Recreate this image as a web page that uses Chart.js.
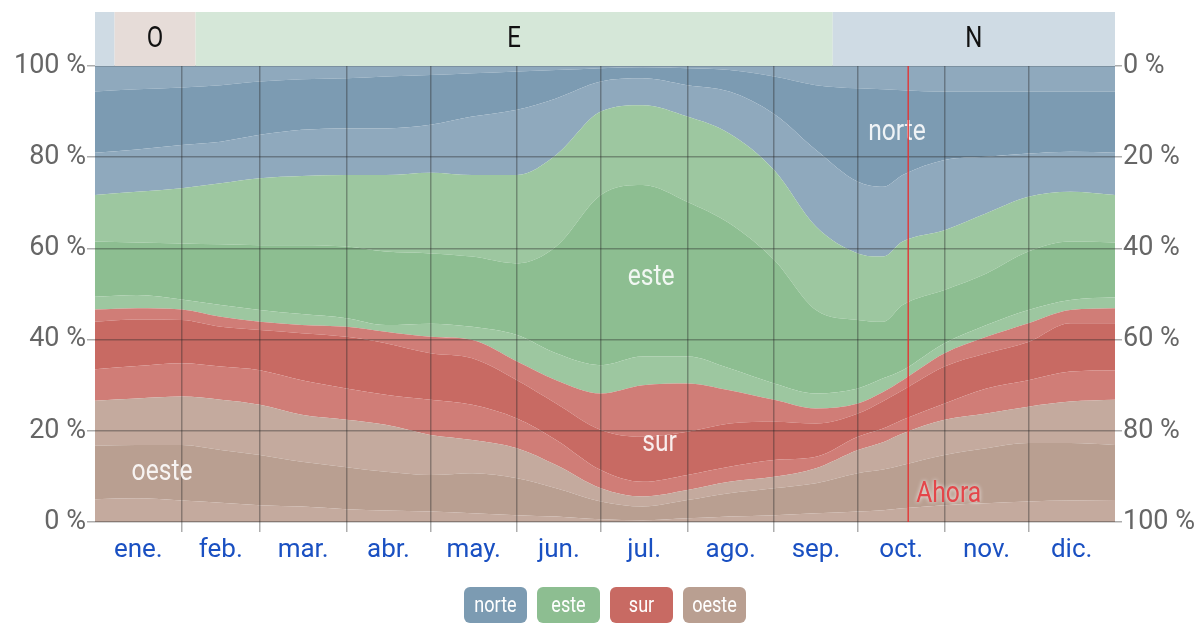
<!DOCTYPE html>
<html>
<head>
<meta charset="utf-8">
<script src="https://cdn.jsdelivr.net/npm/chart.js@4"></script>
<style>
  html, body { margin: 0; padding: 0; background: #fff; }
  #wrap { width: 1195px; height: 623px; }
</style>
</head>
<body>
<div id="wrap"><canvas id="windChart" width="1195" height="623"></canvas></div>
<script>
const FONT = '"Liberation Sans Narrow", Roboto, sans-serif';

// day of year (0 = 1 ene.)
const days = [0, 15, 31, 45, 59, 74, 90, 104, 120, 135, 151, 165, 181, 196, 212, 227, 243, 258, 273, 282, 289, 304, 319, 334, 349, 365];

// cumulative upper edges (%) of each band, bottom to top
const oesteLow  = [5.0, 5.2, 4.7, 4.2, 3.7, 3.4, 2.8, 2.5, 2.3, 1.9, 1.5, 1.2, 0.6, 0.4, 0.8, 1.2, 1.5, 1.9, 2.3, 2.6, 3.0, 3.7, 4.1, 4.5, 4.7, 4.8];
const oesteCore = [16.7, 16.9, 16.9, 15.8, 14.7, 13.2, 12.0, 11.0, 10.3, 10.7, 9.6, 7.4, 4.5, 3.4, 4.8, 6.3, 7.4, 8.5, 10.7, 11.5, 12.5, 14.7, 16.2, 17.3, 17.3, 16.9];
const oesteHigh = [26.6, 27.1, 27.5, 26.8, 25.7, 23.5, 22.4, 21.3, 19.1, 18.0, 16.2, 12.5, 7.4, 5.6, 7.0, 8.8, 9.9, 11.8, 15.8, 17.5, 19.4, 22.4, 23.8, 25.3, 26.4, 26.8];
const surLow    = [33.5, 34.2, 34.8, 34.1, 33.3, 31.1, 29.3, 27.9, 26.8, 25.7, 22.7, 18.0, 11.4, 8.8, 10.3, 12.1, 13.6, 14.3, 18.7, 20.5, 22.4, 26.0, 29.3, 31.1, 33.0, 33.3];
const surCore   = [43.9, 44.4, 44.3, 42.8, 42.1, 41.4, 40.6, 39.2, 37.0, 35.9, 31.1, 26.0, 20.2, 18.7, 19.8, 21.6, 22.0, 21.6, 23.8, 26.5, 28.9, 34.1, 37.0, 39.5, 43.6, 43.6];
const surHigh   = [46.6, 46.9, 46.6, 45.0, 43.9, 43.2, 42.8, 41.7, 40.6, 39.9, 35.2, 31.1, 28.2, 30.0, 30.4, 28.9, 26.8, 24.9, 26.0, 28.5, 31.1, 37.0, 40.6, 43.6, 46.5, 46.9];
const esteLow   = [49.4, 49.8, 48.8, 47.6, 46.5, 45.6, 44.7, 43.2, 43.5, 42.8, 41.0, 37.0, 34.4, 36.3, 36.3, 33.7, 30.4, 28.2, 29.3, 31.5, 33.3, 39.2, 43.2, 46.5, 48.7, 49.3];
const esteCore  = [61.5, 61.3, 61.1, 60.9, 60.7, 60.7, 60.4, 59.3, 58.9, 58.2, 56.7, 60.4, 71.7, 73.9, 70.2, 65.5, 57.5, 46.5, 44.3, 43.9, 47.6, 50.9, 54.5, 59.3, 61.5, 61.3];
const esteHigh  = [71.7, 72.4, 73.2, 74.3, 75.4, 75.9, 76.1, 76.1, 76.6, 76.1, 76.1, 80.5, 90.0, 91.4, 88.9, 85.2, 77.2, 64.8, 58.9, 58.2, 61.5, 64.0, 67.7, 71.3, 72.4, 71.7];
const norteLow  = [81.0, 81.7, 82.7, 83.4, 84.9, 86.0, 86.3, 86.3, 87.1, 88.9, 90.4, 92.9, 96.6, 97.3, 95.8, 94.4, 89.5, 81.6, 74.6, 73.5, 76.1, 79.4, 80.1, 80.8, 81.2, 81.0];
const norteCore = [94.4, 94.9, 95.3, 95.8, 96.6, 97.1, 97.3, 97.7, 98.0, 98.4, 98.8, 99.1, 99.5, 99.7, 99.5, 99.1, 97.7, 95.8, 95.1, 94.9, 94.7, 94.4, 94.4, 94.4, 94.4, 94.4];

const monthStarts = [0, 31, 59, 90, 120, 151, 181, 212, 243, 273, 304, 334, 365];
const monthNames = ['ene.', 'feb.', 'mar.', 'abr.', 'may.', 'jun.', 'jul.', 'ago.', 'sep.', 'oct.', 'nov.', 'dic.'];

// predominant direction strip on top
const bandLetters = ['N', 'O', 'E', 'N'];
const bandStarts  = [0, 7, 36, 264];
const bandEnds    = [7, 36, 264, 365];

const today = 291;

const colors = {
    norte: { light: '#8fa9bd', dark: '#7c9bb2', band: '#cfdbe4' },
    este:  { light: '#9dc7a0', dark: '#8dbe91', band: '#d5e7d8' },
    sur:   { light: '#d07d77', dark: '#c86a63', band: '#eed6d3' },
    oeste: { light: '#c4aa9e', dark: '#b99f91', band: '#e6dcd8' }
};
const bandColors = { N: colors.norte.band, E: colors.este.band, S: colors.sur.band, O: colors.oeste.band };
const gridColor = 'rgba(40, 40, 40, 0.38)';

const pts = arr => days.map((d, i) => ({ x: d, y: arr[i] }));
const layer = (arr, color, fill) => ({
    data: pts(arr),
    backgroundColor: color,
    borderWidth: 0,
    pointRadius: 0,
    fill: fill,
    cubicInterpolationMode: 'monotone'
});

const datasets = [
    layer(oesteLow, colors.oeste.light, 'origin'),
    layer(oesteCore, colors.oeste.dark, '-1'),
    layer(oesteHigh, colors.oeste.light, '-1'),
    layer(surLow, colors.sur.light, '-1'),
    layer(surCore, colors.sur.dark, '-1'),
    layer(surHigh, colors.sur.light, '-1'),
    layer(esteLow, colors.este.light, '-1'),
    layer(esteCore, colors.este.dark, '-1'),
    layer(esteHigh, colors.este.light, '-1'),
    layer(norteLow, colors.norte.light, '-1'),
    layer(norteCore, colors.norte.dark, '-1'),
    layer(norteCore, colors.norte.light, 'end')
];

const midMonths = monthNames.map((m, i) => (monthStarts[i] + monthStarts[i + 1]) / 2);
const innerStarts = monthStarts.slice(1, -1);

// narrow text, the reference uses a condensed face
function narrowText(ctx, text, x, y, k) {
    ctx.save();
    ctx.translate(x, y);
    ctx.scale(k, 1);
    ctx.fillText(text, 0, 0);
    ctx.restore();
}

const decorations = {
    id: 'decorations',
    afterDraw(chart) {
        const { ctx, chartArea: area, scales } = chart;
        const x = scales.x, y = scales.y;
        ctx.save();

        // top strip
        bandLetters.forEach((l, i) => {
            const x0 = x.getPixelForValue(bandStarts[i]);
            const x1 = x.getPixelForValue(bandEnds[i]);
            ctx.fillStyle = bandColors[l];
            ctx.fillRect(x0, area.top - 54, x1 - x0, 54);
            if (x1 - x0 > 40) {
                ctx.fillStyle = '#111';
                ctx.font = '30px ' + FONT;
                ctx.textAlign = 'center';
                ctx.textBaseline = 'middle';
                narrowText(ctx, l, (x0 + x1) / 2, area.top - 27, 0.8);
            }
        });

        // direction labels
        ctx.fillStyle = 'rgba(255,255,255,0.88)';
        ctx.font = '29px ' + FONT;
        ctx.textAlign = 'center';
        ctx.textBaseline = 'middle';
        narrowText(ctx, 'norte', x.getPixelForValue(287), y.getPixelForValue(85.3), 0.85);
        narrowText(ctx, 'este', x.getPixelForValue(199), y.getPixelForValue(53.5), 0.85);
        narrowText(ctx, 'sur', x.getPixelForValue(202), y.getPixelForValue(17.1), 0.85);
        narrowText(ctx, 'oeste', x.getPixelForValue(24), y.getPixelForValue(10.7), 0.85);

        // "Ahora"
        const xn = x.getPixelForValue(today);
        ctx.strokeStyle = 'rgba(228, 50, 50, 0.9)';
        ctx.lineWidth = 1.5;
        ctx.beginPath();
        ctx.moveTo(xn, area.top);
        ctx.lineTo(xn, area.bottom);
        ctx.stroke();
        ctx.font = '29px ' + FONT;
        ctx.textAlign = 'left';
        ctx.shadowColor = 'rgba(255,255,255,0.9)';
        ctx.shadowBlur = 4;
        ctx.fillStyle = '#e4464a';
        narrowText(ctx, 'Ahora', xn + 8, y.getPixelForValue(6), 0.85);
        ctx.shadowBlur = 0;

        // legend
        const names = ['norte', 'este', 'sur', 'oeste'];
        const w = 63, h = 36, gap = 10;
        let lx = (area.left + area.right) / 2 - (names.length * w + (names.length - 1) * gap) / 2;
        const ly = area.bottom + 65;
        ctx.font = '22px ' + FONT;
        ctx.textAlign = 'center';
        names.forEach(n => {
            ctx.fillStyle = colors[n].dark;
            ctx.beginPath();
            ctx.roundRect(lx, ly, w, h, 6);
            ctx.fill();
            ctx.fillStyle = '#fff';
            narrowText(ctx, n, lx + w / 2, ly + 19, 0.82);
            lx += w + gap;
        });
        ctx.restore();
    }
};

new Chart(document.getElementById('windChart'), {
    type: 'line',
    data: { datasets },
    options: {
        responsive: false,
        animation: false,
        layout: { padding: { top: 66, left: 0, right: 0, bottom: 0 } },
        plugins: {
            legend: { display: false },
            tooltip: { enabled: false }
        },
        scales: {
            x: {
                type: 'linear',
                min: 0,
                max: 365,
                afterBuildTicks: s => {
                    s.ticks = innerStarts.concat(midMonths).sort((a, b) => a - b).map(v => ({ value: v }));
                },
                afterFit: s => { s.height = 101; },
                grid: {
                    z: 1,
                    lineWidth: 1.5,
                    tickLength: 10,
                    color: c => (c.tick && innerStarts.includes(c.tick.value)) ? gridColor : 'rgba(0,0,0,0)'
                },
                border: { display: false },
                ticks: {
                    autoSkip: false,
                    maxRotation: 0,
                    padding: 3,
                    color: '#1a50c2',
                    font: { family: FONT, size: 26 },
                    callback: v => {
                        const i = midMonths.indexOf(v);
                        return i >= 0 ? monthNames[i] : '';
                    }
                }
            },
            y: {
                position: 'left',
                min: 0,
                max: 100,
                afterFit: s => { s.width = 95; },
                grid: { z: 1, color: gridColor, lineWidth: 1.5, tickLength: 8 },
                border: { display: false },
                ticks: {
                    stepSize: 20,
                    padding: 1,
                    color: '#666',
                    font: { family: FONT, size: 27 },
                    callback: v => v + ' %'
                }
            },
            y1: {
                position: 'right',
                reverse: true,
                min: 0,
                max: 100,
                afterFit: s => { s.width = 80; },
                grid: { drawOnChartArea: false, color: gridColor, lineWidth: 1.5, tickLength: 7 },
                border: { display: false },
                ticks: {
                    stepSize: 20,
                    padding: 1,
                    color: '#666',
                    font: { family: FONT, size: 27 },
                    callback: v => v + ' %'
                }
            }
        }
    },
    plugins: [decorations]
});
</script>
</body>
</html>
